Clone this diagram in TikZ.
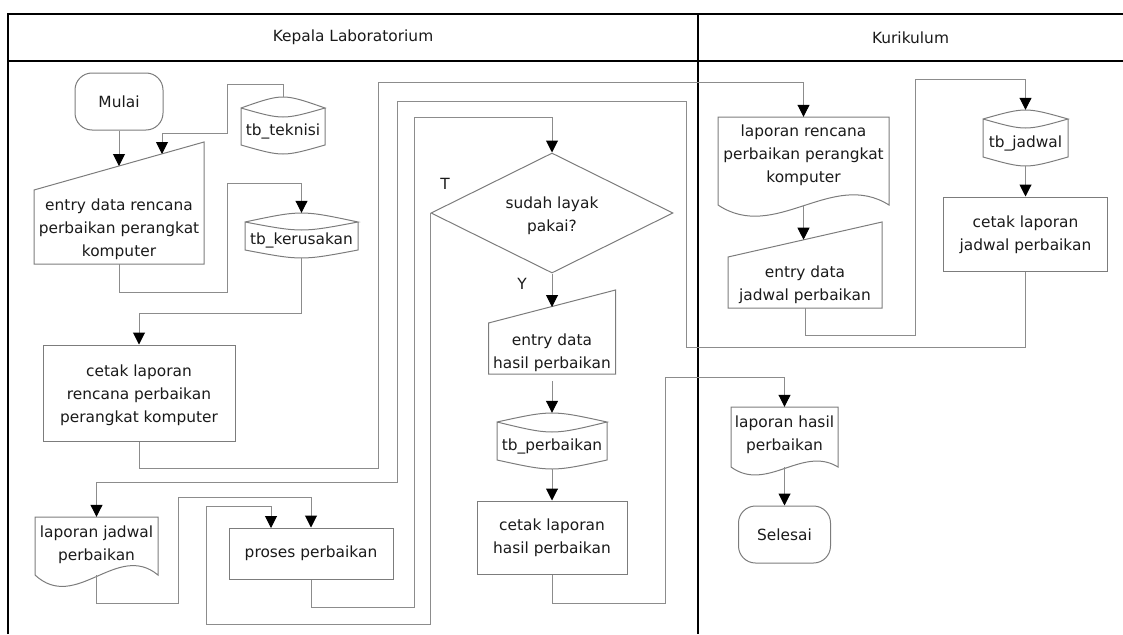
\documentclass[tikz,border=0pt]{standalone}
\usepackage{fontspec}
\setmainfont{DejaVu Sans}
\usetikzlibrary{arrows.meta,shapes.geometric}

\definecolor{edge}{HTML}{7C7C7C}
\definecolor{wire}{HTML}{8C8C8C}
\definecolor{ink}{HTML}{1A1A1A}

% centred block of lines, moved up or down by #1 without changing its box
\newcommand\boxtext[2]{\raisebox{#1}[\height][\depth]{\begin{tabular}{@{}c@{}}#2\end{tabular}}}

% database symbol: x-left, x-right, top peak, top corner, lip, bottom corner, bottom bulge
\newcommand\drawdb[7]{%
  \draw[shp] (#1,#4) .. controls ({(#1+#2)/2},{#4-(#4-#3)*4/3}) .. (#2,#4)
    .. controls ({(#1+#2)/2},{#4+(#5-#4)*4/3}) .. (#1,#4) -- (#1,#6)
    .. controls ({(#1+#2)/2},{#6+(#7-#6)*4/3}) .. (#2,#6) -- (#2,#4);}

% document symbol: x-left, x-right, top, side bottom, wave down, wave up
\newcommand\drawdoc[6]{%
  \draw[shp] (#1,#4) -- (#1,#3) -- (#2,#3) -- (#2,#4)
    .. controls ({#2-(#2-#1)/3},{#4-#6}) and ({#1+(#2-#1)/3},{#4+#5}) .. cycle;}

% manual input symbol: x-left, x-right, top left, top right, bottom
\newcommand\drawmanual[5]{%
  \draw[shp] (#1,#3) -- (#2,#4) -- (#2,#5) -- (#1,#5) -- cycle;}

\tikzset{
  every node/.style={font=\fontsize{15.4}{23}\selectfont, text=ink, inner sep=0pt},
  shp/.style={draw=edge, line width=1pt},
  term/.style={shp, rectangle, rounded corners=17pt},
  proc/.style={shp, rectangle},
  box/.style={rectangle},
  conn/.style={draw=wire, line width=1pt},
  flow/.style={conn, -{Triangle[width=12pt,length=12pt,color=black]}},
  lane/.style={draw=black, line width=2.6pt, line join=miter},
}

\begin{document}
\begin{tikzpicture}[x=1pt,y=-1pt]
\useasboundingbox (0,0) rectangle (1123,634);

% swimlanes
\draw[lane] (8,634) -- (8,14) -- (1123,14);
\draw[lane] (8,61) -- (1123,61);
\draw[lane] (698,14) -- (698,634);
\node (laneA) at (353,37.5) {Kepala Laboratorium};
\node (laneB) at (910.5,37.5) {Kurikulum};

% ---- Kepala Laboratorium ----
\node[term, minimum width=88pt, minimum height=57pt] (mulai) at (119,101.5) {Mulai};

\drawmanual{34}{204}{190}{142}{264}
\node[box, minimum width=170pt, minimum height=74pt] (entry1) at (119,227)
  {\boxtext{-2pt}{entry data rencana\\perbaikan perangkat\\komputer}};
\coordinate (entry1-in1) at (119,166);
\coordinate (entry1-in2) at (162,154);

\drawdb{241}{325}{97}{108}{117}{145}{154}
\node[box, minimum width=84pt, minimum height=57pt] (tek) at (283,125.5)
  {\boxtext{-5.5pt}{tb\_teknisi}};

\drawdb{245}{358}{213}{222}{230}{250}{258}
\node[box, minimum width=113pt, minimum height=45pt] (ker) at (301.5,235.5)
  {\boxtext{-4.5pt}{tb\_kerusakan}};

\node[proc, minimum width=192pt, minimum height=96pt] (cetak1) at (139,393)
  {\boxtext{-2pt}{cetak laporan\\rencana perbaikan\\perangkat komputer}};

\drawdoc{35}{158}{517}{575}{38}{34}
\node[box, minimum width=123pt, minimum height=58pt] (lapjad) at (96.5,546)
  {\boxtext{2pt}{laporan jadwal\\perbaikan}};

\node[proc, minimum width=164pt, minimum height=51pt] (proses) at (311,553.5) {proses perbaikan};
\coordinate (proses-in2) at (271,528);

\node[shp, diamond, aspect=2, minimum width=242pt, minimum height=120pt] (dec) at (552,213)
  {\boxtext{-2pt}{sudah layak\\pakai?}};
\node (tlab) at (445,184) {T};
\node (ylab) at (522,284) {Y};

\drawmanual{488.5}{615.5}{323}{290}{374}
\node[box, minimum width=127pt, minimum height=51pt] (entry3) at (552,348.5)
  {\boxtext{-3.5pt}{entry data\\hasil perbaikan}};
\coordinate (entry3-in) at (552,307);

\drawdb{497}{607}{413}{422}{432}{460}{469}
\node[box, minimum width=110pt, minimum height=56pt] (perb) at (552,441)
  {\boxtext{-5pt}{tb\_perbaikan}};

\node[proc, minimum width=150pt, minimum height=73pt] (cetak3) at (552,537.5)
  {\boxtext{0pt}{cetak laporan\\hasil perbaikan}};

% ---- Kurikulum ----
\drawdoc{718}{889}{117}{205}{38}{36}
\node[box, minimum width=171pt, minimum height=88pt] (lapren) at (803.5,161)
  {\boxtext{6pt}{laporan rencana\\perbaikan perangkat\\komputer}};

\drawmanual{728}{882}{257}{222}{308}
\node[box, minimum width=154pt, minimum height=51pt] (entry2) at (805,282.5)
  {\boxtext{-1.5pt}{entry data\\jadwal perbaikan}};
\coordinate (entry2-in) at (803.5,239.7);

\drawdb{983}{1068}{110}{119}{128}{157}{166}
\node[box, minimum width=85pt, minimum height=56pt] (jad) at (1025.5,138)
  {\boxtext{-4.5pt}{tb\_jadwal}};

\node[proc, minimum width=164pt, minimum height=74pt] (cetak2) at (1025.5,234)
  {\boxtext{0pt}{cetak laporan\\jadwal perbaikan}};

\drawdoc{731}{838}{407}{467}{26}{22}
\node[box, minimum width=107pt, minimum height=60pt] (laphasil) at (784.5,437)
  {\boxtext{2.5pt}{laporan hasil\\perbaikan}};

\node[term, minimum width=92pt, minimum height=57pt] (selesai) at (784.5,534.5) {Selesai};

% ---- flow ----
\draw[flow] (mulai.south) -- (entry1-in1);
\draw[flow] (tek.north) |- (227,84) |- (162,133) -- (entry1-in2);
\draw[flow] (entry1.south) |- (227,292) |- (301.5,183) -- (ker.north);
\draw[flow] (ker.south) |- (139,313) -- (cetak1.north);
\draw[flow] (cetak1.south) |- (378,468) |- (803.5,82) -- (lapren.north);
\draw[flow] (lapren.south) -- (entry2-in);
\draw[flow] (entry2.south) |- (915,335) |- (1025.5,79) -- (jad.north);
\draw[flow] (jad.south) -- (cetak2.north);
\draw[flow] (cetak2.south) |- (686,347) |- (397,101) |- (96.5,482) -- (lapjad.north);
\draw[flow] (lapjad.south) |- (178,603) |- (311,497) -- (proses.north);
\draw[flow] (proses.south) |- (414,607) |- (552,117) -- (dec.north);
\draw[flow] (dec.west) |- (206,624) |- (271,506) -- (proses-in2);
\draw[flow] (dec.south) -- (entry3-in);
\draw[flow, shorten <=7pt] (entry3.south) -- (perb.north);
\draw[flow] (perb.south) -- (cetak3.north);
\draw[flow] (cetak3.south) |- (665,603) |- (784.5,377) -- (laphasil.north);
\draw[flow] (laphasil.south) -- (selesai.north);
\end{tikzpicture}
\end{document}
